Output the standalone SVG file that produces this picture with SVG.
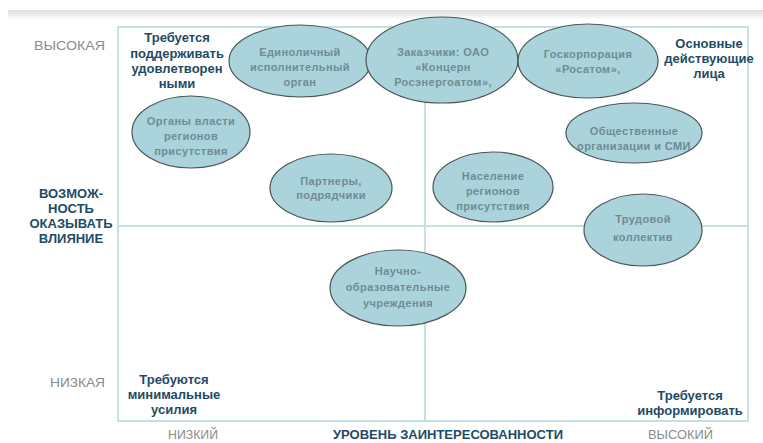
<svg xmlns="http://www.w3.org/2000/svg" width="763" height="443" viewBox="0 0 763 443">
<defs>
<linearGradient id="band" x1="0" y1="0" x2="0" y2="1">
<stop offset="0" stop-color="#dedede"/>
<stop offset="1" stop-color="#ffffff"/>
</linearGradient>
<style>
.frame{fill:none;stroke:#c6dee4;stroke-width:2}
.div{stroke:#c6dee4;stroke-width:2}
.ell{fill:#aad3db;stroke:#4a5557;stroke-width:1.2}
.et{font-family:"Liberation Sans",Arial,sans-serif;font-size:11px;font-weight:bold;fill:#6f8c94;text-anchor:middle;letter-spacing:0.4px}
.q{font-family:"Liberation Sans",Arial,sans-serif;font-size:13px;font-weight:bold;fill:#1e4b66;text-anchor:middle}
.ax{font-family:"Liberation Sans Narrow","Liberation Sans",Arial,sans-serif;font-size:13px;fill:#8a8a8a}
.axb{font-family:"Liberation Sans Narrow","Liberation Sans",Arial,sans-serif;font-size:13px;font-weight:bold;fill:#1e4b66}
</style>
</defs>
<rect x="0" y="0" width="763" height="443" fill="#ffffff"/>
<rect x="8" y="10" width="755" height="10" fill="url(#band)"/>

<g id="grid">
<rect class="frame" x="118" y="27" width="630" height="394"/>
<line class="div" x1="425" y1="27" x2="425" y2="421"/>
<line class="div" x1="118" y1="226" x2="748" y2="226"/>
</g>

<g id="axis-labels">
<text class="ax" x="34" y="50" textLength="71" lengthAdjust="spacingAndGlyphs">ВЫСОКАЯ</text>
<text class="ax" x="50" y="387" textLength="55" lengthAdjust="spacingAndGlyphs">НИЗКАЯ</text>
<text class="ax" x="168" y="439" textLength="50" lengthAdjust="spacingAndGlyphs">НИЗКИЙ</text>
<text class="ax" x="648" y="439" textLength="65" lengthAdjust="spacingAndGlyphs">ВЫСОКИЙ</text>
<text class="axb" x="333" y="439" textLength="230" lengthAdjust="spacingAndGlyphs">УРОВЕНЬ ЗАИНТЕРЕСОВАННОСТИ</text>
<text class="q" x="71"><tspan x="71" y="198">ВОЗМОЖ-</tspan><tspan x="71" y="213">НОСТЬ</tspan><tspan x="71" y="228">ОКАЗЫВАТЬ</tspan><tspan x="71" y="243">ВЛИЯНИЕ</tspan></text>
</g>

<g id="quadrant-labels">
<text class="q"><tspan x="177" y="42">Требуется</tspan><tspan x="177" y="58">поддерживать</tspan><tspan x="177" y="73">удовлетворен</tspan><tspan x="177" y="88">ными</tspan></text>
<text class="q"><tspan x="709" y="48">Основные</tspan><tspan x="709" y="63">действующие</tspan><tspan x="709" y="78">лица</tspan></text>
<text class="q"><tspan x="174" y="384">Требуются</tspan><tspan x="174" y="399">минимальные</tspan><tspan x="174" y="414">усилия</tspan></text>
<text class="q"><tspan x="690" y="400">Требуется</tspan><tspan x="690" y="415">информировать</tspan></text>
</g>

<g id="node-edinolichny">
<ellipse class="ell" cx="300" cy="61" rx="71" ry="36"/>
<text class="et"><tspan x="300" y="56">Единоличный</tspan><tspan x="300" y="71">исполнительный</tspan><tspan x="300" y="86">орган</tspan></text>
</g>
<g id="node-zakazchiki">
<ellipse class="ell" cx="442" cy="60" rx="76" ry="43"/>
<text class="et"><tspan x="443" y="56">Заказчики: ОАО</tspan><tspan x="443" y="71">«Концерн</tspan><tspan x="443" y="86">Росэнергоатом»,</tspan></text>
</g>
<g id="node-goskorporatsiya">
<ellipse class="ell" cx="588" cy="61" rx="70" ry="37"/>
<text class="et"><tspan x="588" y="58">Госкорпорация</tspan><tspan x="588" y="73">«Росатом»,</tspan></text>
</g>
<g id="node-organy">
<ellipse class="ell" cx="191" cy="132" rx="59" ry="36"/>
<text class="et"><tspan x="191" y="125">Органы власти</tspan><tspan x="191" y="140">регионов</tspan><tspan x="191" y="155">присутствия</tspan></text>
</g>
<g id="node-obshchestvennye">
<ellipse class="ell" cx="634" cy="133" rx="68" ry="30"/>
<text class="et"><tspan x="634" y="135">Общественные</tspan><tspan x="634" y="150">организации и СМИ</tspan></text>
</g>
<g id="node-partnery">
<ellipse class="ell" cx="331" cy="188" rx="61" ry="34"/>
<text class="et"><tspan x="331" y="185">Партнеры,</tspan><tspan x="331" y="199">подрядчики</tspan></text>
</g>
<g id="node-naselenie">
<ellipse class="ell" cx="493" cy="187" rx="60" ry="35"/>
<text class="et"><tspan x="493" y="180">Население</tspan><tspan x="493" y="195">регионов</tspan><tspan x="493" y="210">присутствия</tspan></text>
</g>
<g id="node-trudovoy">
<ellipse class="ell" cx="643" cy="230" rx="59" ry="36"/>
<text class="et"><tspan x="643" y="223">Трудовой</tspan><tspan x="643" y="241">коллектив</tspan></text>
</g>
<g id="node-nauchno">
<ellipse class="ell" cx="398" cy="288" rx="68" ry="38"/>
<text class="et"><tspan x="398" y="275">Научно-</tspan><tspan x="398" y="291">образовательные</tspan><tspan x="398" y="307">учреждения</tspan></text>
</g>
<g id="connectors"/>
</svg>
